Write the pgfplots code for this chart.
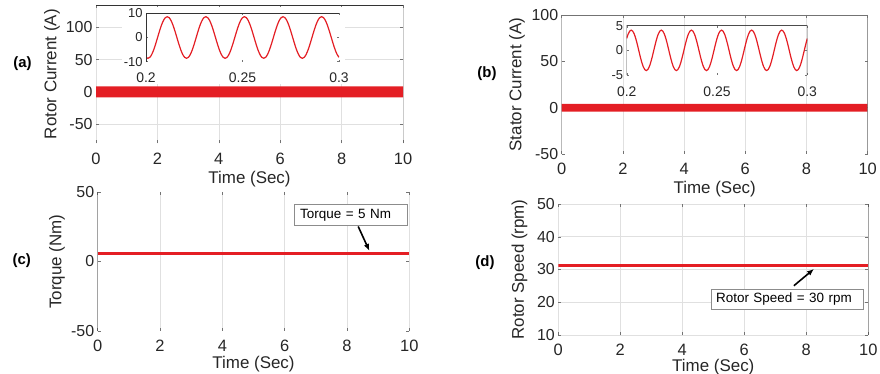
\documentclass[border=0pt]{standalone}
\usepackage{pgfplots}
\pgfplotsset{compat=1.18}
\usepackage{pgfplotstable}
\usepackage{fontspec}
\setmainfont{Liberation Sans}
\usetikzlibrary{arrows.meta}
\definecolor{myred}{RGB}{228,30,36}

% inset (a): rotor current, 50 Hz, t in s
\pgfplotstableread{
t v
0.200 -8.18
0.201 -8.6
0.202 -8.18
0.203 -6.96
0.204 -5.06
0.205 -2.66
0.206 0
0.207 2.66
0.208 5.06
0.209 6.96
0.210 8.18
0.211 8.6
0.212 8.18
0.213 6.96
0.214 5.06
0.215 2.66
0.216 0
0.217 -2.66
0.218 -5.06
0.219 -6.96
0.220 -8.18
0.221 -8.6
0.222 -8.18
0.223 -6.96
0.224 -5.06
0.225 -2.66
0.226 0
0.227 2.66
0.228 5.06
0.229 6.96
0.230 8.18
0.231 8.6
0.232 8.18
0.233 6.96
0.234 5.06
0.235 2.66
0.236 0
0.237 -2.66
0.238 -5.06
0.239 -6.96
0.240 -8.18
0.241 -8.6
0.242 -8.18
0.243 -6.96
0.244 -5.06
0.245 -2.66
0.246 0
0.247 2.66
0.248 5.06
0.249 6.96
0.250 8.18
0.251 8.6
0.252 8.18
0.253 6.96
0.254 5.06
0.255 2.66
0.256 0
0.257 -2.66
0.258 -5.06
0.259 -6.96
0.260 -8.18
0.261 -8.6
0.262 -8.18
0.263 -6.96
0.264 -5.06
0.265 -2.66
0.266 0
0.267 2.66
0.268 5.06
0.269 6.96
0.270 8.18
0.271 8.6
0.272 8.18
0.273 6.96
0.274 5.06
0.275 2.66
0.276 0
0.277 -2.66
0.278 -5.06
0.279 -6.96
0.280 -8.18
0.281 -8.6
0.282 -8.18
0.283 -6.96
0.284 -5.06
0.285 -2.66
0.286 0
0.287 2.66
0.288 5.06
0.289 6.96
0.290 8.18
0.291 8.6
0.292 8.18
0.293 6.96
0.294 5.06
0.295 2.66
0.296 0
0.297 -2.66
0.298 -5.06
0.299 -6.96
0.300 -8.18
}\insetA

% inset (b): stator current, 60 Hz
\pgfplotstableread{
t v
0.20000 2.41
0.20083 3.32
0.20167 3.90
0.20250 4.10
0.20333 3.90
0.20417 3.32
0.20500 2.41
0.20583 1.27
0.20667 0
0.20750 -1.27
0.20833 -2.41
0.20917 -3.32
0.21000 -3.90
0.21083 -4.10
0.21167 -3.90
0.21250 -3.32
0.21333 -2.41
0.21417 -1.27
0.21500 0
0.21583 1.27
0.21667 2.41
0.21750 3.32
0.21833 3.90
0.21917 4.10
0.22000 3.90
0.22083 3.32
0.22167 2.41
0.22250 1.27
0.22333 0
0.22417 -1.27
0.22500 -2.41
0.22583 -3.32
0.22667 -3.90
0.22750 -4.10
0.22833 -3.90
0.22917 -3.32
0.23000 -2.41
0.23083 -1.27
0.23167 0
0.23250 1.27
0.23333 2.41
0.23417 3.32
0.23500 3.90
0.23583 4.10
0.23667 3.90
0.23750 3.32
0.23833 2.41
0.23917 1.27
0.24000 0
0.24083 -1.27
0.24167 -2.41
0.24250 -3.32
0.24333 -3.90
0.24417 -4.10
0.24500 -3.90
0.24583 -3.32
0.24667 -2.41
0.24750 -1.27
0.24833 0
0.24917 1.27
0.25000 2.41
0.25083 3.32
0.25167 3.90
0.25250 4.10
0.25333 3.90
0.25417 3.32
0.25500 2.41
0.25583 1.27
0.25667 0
0.25750 -1.27
0.25833 -2.41
0.25917 -3.32
0.26000 -3.90
0.26083 -4.10
0.26167 -3.90
0.26250 -3.32
0.26333 -2.41
0.26417 -1.27
0.26500 0
0.26583 1.27
0.26667 2.41
0.26750 3.32
0.26833 3.90
0.26917 4.10
0.27000 3.90
0.27083 3.32
0.27167 2.41
0.27250 1.27
0.27333 0
0.27417 -1.27
0.27500 -2.41
0.27583 -3.32
0.27667 -3.90
0.27750 -4.10
0.27833 -3.90
0.27917 -3.32
0.28000 -2.41
0.28083 -1.27
0.28167 0
0.28250 1.27
0.28333 2.41
0.28417 3.32
0.28500 3.90
0.28583 4.10
0.28667 3.90
0.28750 3.32
0.28833 2.41
0.28917 1.27
0.29000 0
0.29083 -1.27
0.29167 -2.41
0.29250 -3.32
0.29333 -3.90
0.29417 -4.10
0.29500 -3.90
0.29583 -3.32
0.29667 -2.41
0.29750 -1.27
0.29833 0
0.29917 1.27
0.30000 2.41
}\insetB

\pgfplotsset{
  panel/.style={
    scale only axis, anchor=south west,
    xmin=0, xmax=10, xtick={0,2,4,6,8,10},
    /pgf/number format/assume math mode=true,
    tick label style={font=\fontsize{16}{16}\selectfont, text=black!85},
    label style={font=\fontsize{17}{17}\selectfont, text=black!85},
    tick align=inside, major tick length=3bp,
    tick style={black!55, line width=0.5bp},
    axis line style={draw=none},
    xmajorgrids, grid style={black!12, line width=0.6bp},
    xticklabel style={yshift=-6bp, font=\fontsize{16.5}{16.5}\selectfont},
    xlabel={Time (Sec)},
  },
  inset/.style={
    scale only axis, anchor=south west,
    xmin=0.2, xmax=0.3, xtick={0.2,0.25,0.3},
    /pgf/number format/assume math mode=true,
    /pgf/number format/fixed,
    tick label style={font=\fontsize{13}{13}\selectfont, text=black!85},
    tick align=inside, major tick length=2bp,
    tick style={black!55, line width=0.4bp},
    axis line style={draw=none},
    xticklabel style={yshift=-8bp, font=\fontsize{14}{14}\selectfont},
  },
}

\begin{document}
\begin{tikzpicture}
\path[use as bounding box] (0bp,0bp) rectangle (880bp,374bp);

% ---------- (a) ----------
\begin{axis}[panel, at={(96bp,230.7bp)}, width=307bp, height=138.3bp,
  ymin=-80, ymax=135, ytick={-50,0,50,100}, ymajorgrids,
  ylabel={Rotor Current (A)},
  ylabel style={at={(axis description cs:-0.143,0.5)}, anchor=center},
  xlabel style={at={(axis description cs:0.5,-0.258)}, anchor=center}]
\addplot[fill=myred, draw=none] coordinates {(0,-8.6) (10,-8.6) (10,8.6) (0,8.6) (0,-8.6)};
\draw[black!80, line width=0.7bp] (rel axis cs:0,1) -- (rel axis cs:1,1) -- (rel axis cs:1,0);
\end{axis}
\fill[white] (122bp,290bp) rectangle (345bp,367bp);
\begin{axis}[inset, at={(146bp,312.3bp)}, width=193bp, height=48.4bp,
  ymin=-10, ymax=10, ytick={-10,0,10}]
\addplot[myred, line width=1.2bp, smooth] table[x=t, y=v] {\insetA};
\draw[black!80, line width=0.6bp] (rel axis cs:0,0) -- (rel axis cs:0,1) -- (rel axis cs:1,1);
\end{axis}
\node[font=\bfseries\fontsize{15}{15}\selectfont] at (22.5bp,310.7bp) {(a)};

% ---------- (b) ----------
\begin{axis}[panel, at={(561.7bp,220bp)}, width=306bp, height=139bp,
  ymin=-50, ymax=100, ytick={-50,0,50,100},
  ylabel={Stator Current (A)},
  ylabel style={at={(axis description cs:-0.146,0.5)}, anchor=center},
  xlabel style={at={(axis description cs:0.5,-0.252)}, anchor=center}]
\addplot[fill=myred, draw=none] coordinates {(0,-4.2) (10,-4.2) (10,4.2) (0,4.2) (0,-4.2)};
\draw[black!55, line width=0.7bp] (rel axis cs:0,0) rectangle (rel axis cs:1,1);
\end{axis}
\begin{axis}[inset, at={(626.7bp,299bp)}, width=180.6bp, height=49.3bp,
  ymin=-5, ymax=5, ytick={-5,0,5}]
\addplot[myred, line width=1.2bp, smooth] table[x=t, y=v] {\insetB};
\draw[black!70, line width=0.6bp] (rel axis cs:0,0) -- (rel axis cs:0,1) -- (rel axis cs:1,1) -- (rel axis cs:1,0);
\end{axis}
\node[font=\bfseries\fontsize{15}{15}\selectfont] at (487bp,300.7bp) {(b)};

% ---------- (c) ----------
\begin{axis}[panel, at={(97.7bp,43bp)}, width=311.6bp, height=139bp,
  ymin=-50, ymax=50, ytick={-50,0,50},
  ylabel={Torque (Nm)},
  ylabel style={at={(axis description cs:-0.131,0.5)}, anchor=center},
  xlabel style={at={(axis description cs:0.5,-0.236)}, anchor=center}]
\addplot[myred, line width=3bp] coordinates {(0,6) (10,6)};
\draw[black!80, line width=0.7bp] (rel axis cs:0,0) -- (rel axis cs:0,1);
\node[draw=black!45, fill=white, line width=0.6bp, font=\fontsize{13.5}{13.5}\selectfont,
  text width=101bp, inner xsep=6bp, inner ysep=0pt, minimum height=20.7bp, align=left]
  at (axis cs:8.12,33.4) {Torque = 5 Nm};
\draw[-{Latex[length=7bp,width=5.5bp]}, line width=1.6bp] (axis cs:8.36,25.2) -- (axis cs:8.72,7.6);
\end{axis}
\node[font=\bfseries\fontsize{15}{15}\selectfont] at (21.7bp,113bp) {(c)};

% ---------- (d) ----------
\begin{axis}[panel, at={(558.3bp,39bp)}, width=310bp, height=131bp,
  ymin=10, ymax=50, ytick={10,20,30,40,50}, ymajorgrids,
  ylabel={Rotor Speed (rpm)},
  ylabel style={at={(axis description cs:-0.125,0.5)}, anchor=center},
  xlabel style={at={(axis description cs:0.5,-0.248)}, anchor=center}]
\addplot[myred, line width=3bp] coordinates {(0,31.3) (10,31.3)};
\draw[black!80, line width=0.7bp] (rel axis cs:0,0) -- (rel axis cs:1,0) -- (rel axis cs:1,1);
\node[draw=black!45, fill=white, line width=0.6bp, font=\fontsize{13.5}{13.5}\selectfont,
  text width=142.6bp, inner xsep=4.5bp, inner ysep=0pt, minimum height=20bp, align=left]
  at (axis cs:7.39,21.0) {Rotor Speed = 30 rpm};
\draw[-{Latex[length=7bp,width=5.5bp]}, line width=1.6bp] (axis cs:7.6,25.05) -- (axis cs:8.25,30.2);
\end{axis}
\node[font=\bfseries\fontsize{15}{15}\selectfont] at (485bp,111.7bp) {(d)};

\end{tikzpicture}
\end{document}
